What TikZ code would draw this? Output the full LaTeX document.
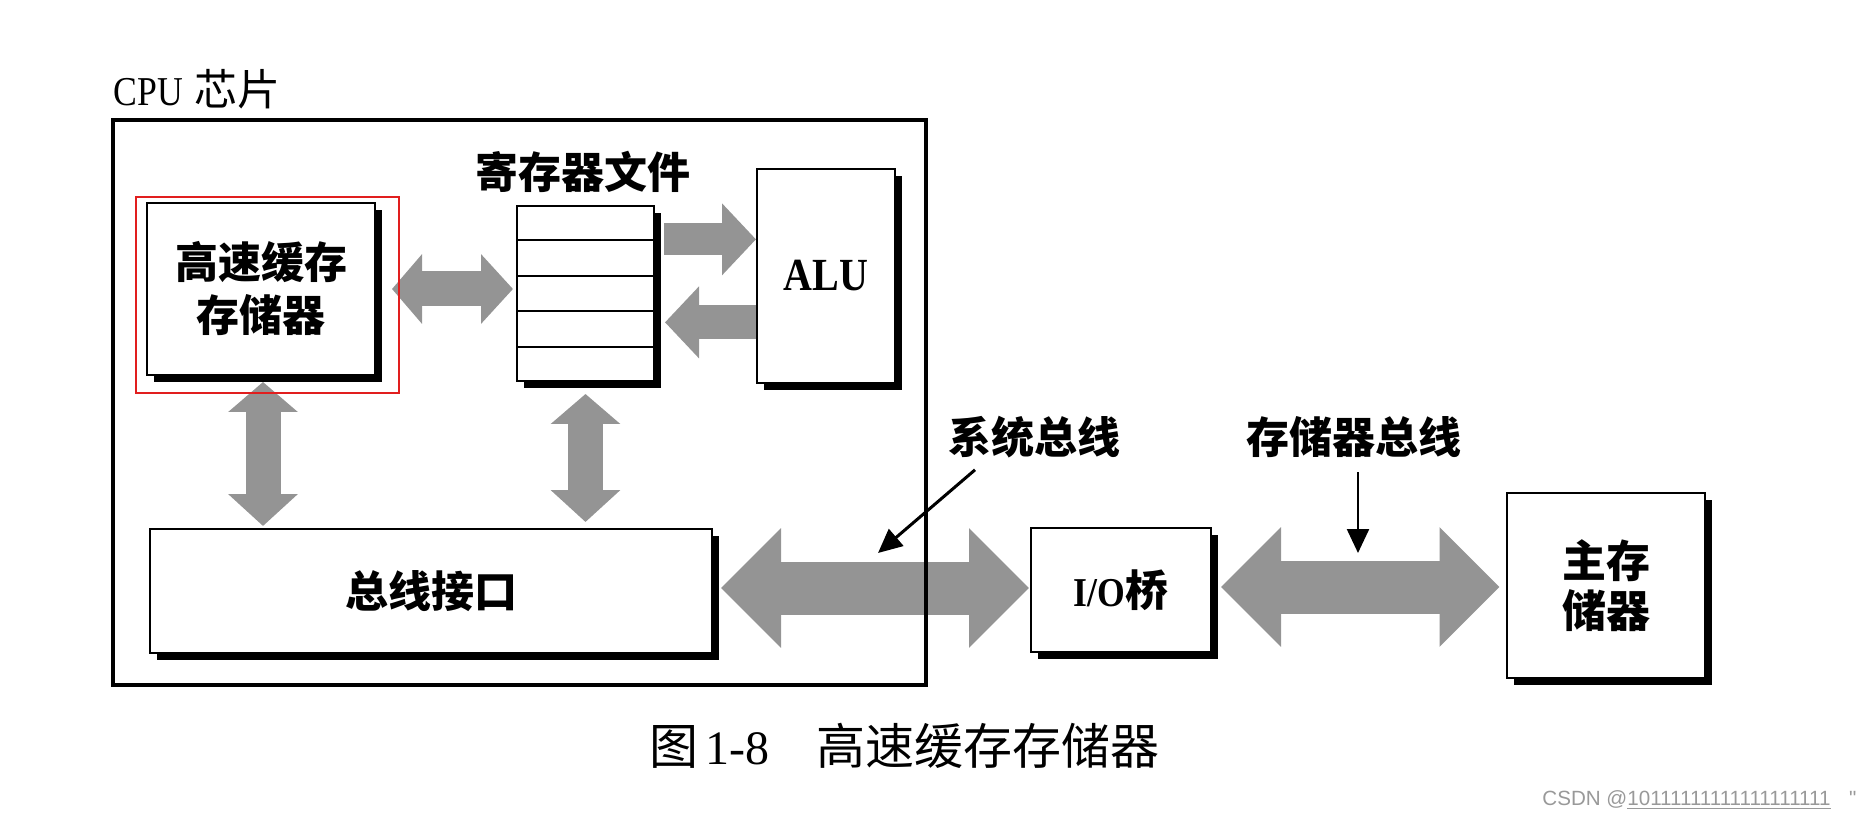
\documentclass[tikz,border=0pt]{standalone}
\usepackage{fontspec}
\setmainfont{Liberation Serif}
\newfontfamily\cjk{Noto Sans CJK SC}
\newfontfamily\narrow[FakeStretch=0.87]{Liberation Serif}
\newfontfamily\wmfont{Liberation Sans}
\usetikzlibrary{arrows.meta,shadows,calc}
\definecolor{busgray}{gray}{0.58}
\definecolor{hl}{RGB}{225,30,30}
\begin{document}
\begin{tikzpicture}[x=0.5pt,y=-0.5pt,
  box/.style={draw, line width=1pt, fill=white, inner sep=0pt,
    drop shadow={shadow xshift=3.5pt, shadow yshift=-3.5pt, fill=black, opacity=1}},
  cjklbl/.style={font=\cjk\bfseries\fontsize{21.5}{26.5}\selectfont, align=center, inner sep=0pt},
  bigbus/.style={draw=busgray, line width=26.5pt,
    {Triangle[length=30pt,width=58pt]}-{Triangle[length=30pt,width=58pt]}},
  smallbi/.style={draw=busgray, line width=17.5pt,
    {Triangle[length=15pt,width=34pt]}-{Triangle[length=16pt,width=34pt]}},
  smallone/.style={draw=busgray, line width=16pt, -{Triangle[length=17pt,width=35pt]}},
  pointer/.style={draw=black, line width=1.5pt, -{Triangle[length=12pt,width=11pt]}},
  rowline/.style={draw, line width=1pt},
  chip/.style={draw, line width=1.6pt, inner sep=0pt},
  redmark/.style={draw=hl, line width=1pt, inner sep=0pt}
]
\useasboundingbox (0,0) rectangle (1876,818);

% boxes
\node[box, cjklbl, minimum width=114pt, minimum height=86pt] (cache) at (261,289) {高速缓存\\存储器};
\node[box, minimum width=68.5pt, minimum height=87.5pt] (reg) at (585.5,293.5) {};
\foreach \f in {0.2,0.4,0.6,0.8}
  \draw[rowline] ($(reg.north west)!\f!(reg.south west)$) -- ($(reg.north east)!\f!(reg.south east)$);
\node[box, minimum width=69pt, minimum height=107pt,
  font=\narrow\bfseries\fontsize{23}{23}\selectfont] (alu) at (826,276) {ALU};
\node[box, cjklbl, minimum width=281pt, minimum height=62pt] (bus) at (431,591) {总线接口};
\node[box, minimum width=90pt, minimum height=62pt] (io) at (1121,590)
  {{\narrow\bfseries\fontsize{20.5}{20}\selectfont I/O}{\cjk\bfseries\fontsize{21.5}{26}\selectfont 桥}};
\node[box, cjklbl, font=\cjk\bfseries\fontsize{22}{25}\selectfont, minimum width=99pt, minimum height=92.5pt] (mem) at (1606,585.5) {主存\\储器};

% labels
\node[anchor=west, inner sep=0pt] (cpul) at (113,89)
  {{\narrow\fontsize{20.5}{20}\selectfont CPU}\hspace{6pt}{\cjk\fontsize{21.5}{20}\selectfont 芯片}};
\node[cjklbl] (regl) at (583,172) {寄存器文件};
\node[cjklbl] (sysl) at (1034,437) {系统总线};
\node[cjklbl] (meml) at (1354,437) {存储器总线};

% internal buses
\draw[smallbi] ([xshift=8pt]cache.east) -- ([xshift=-1.5pt]cache.east -| reg.west);
\coordinate (r1) at ($(reg.north east)!0.194!(reg.south east)$);
\coordinate (r2) at ($(reg.north east)!0.663!(reg.south east)$);
\draw[smallone] ([xshift=4.5pt]r1) -- (r1 -| alu.west);
\draw[smallone, line width=17pt] (r2 -| alu.west) -- ([xshift=5pt]r2);
\draw[smallbi] ([xshift=1pt,yshift=-3pt]cache.south) -- ([xshift=1pt,yshift=1pt]cache.south |- bus.north);
\draw[smallbi] ([yshift=-6pt]reg.south) -- ([yshift=3pt]reg.south |- bus.north);

% system bus and memory bus
\draw[bigbus] ([xshift=4pt,yshift=1.5pt]bus.east) -- ([xshift=-0.5pt,yshift=1.5pt]bus.east -| io.west);
\draw[bigbus] ([xshift=4.5pt,yshift=1.5pt]io.east) -- ([xshift=-3.25pt,yshift=1.5pt]io.east -| mem.west);

% chip outline and highlight
\node[chip, minimum width=406.5pt, minimum height=282.5pt] (cpu) at (519.5,402.5) {};
\node[redmark, minimum width=131.5pt, minimum height=98pt] (red) at (267.5,295) {};

% pointers
\coordinate (systip) at (878,553);
\coordinate (memtip) at (1358,553);
\draw[pointer] ([xshift=-29.5pt,yshift=-5.75pt]sysl.south) -- (systip);
\draw[pointer, line width=1.2pt] ([xshift=2pt,yshift=-7pt]meml.south) -- (memtip);

% caption
\node[anchor=west, inner sep=0pt] (cap) at (649,746)
  {{\cjk\fontsize{24.5}{24}\selectfont 图}\hspace{3.5pt}{\fontsize{24}{24}\selectfont 1-8}\hspace{23.5pt}{\cjk\fontsize{24.5}{24}\selectfont 高速缓存存储器}};

% watermark
\node[anchor=west, inner sep=0pt, text=black!40, font=\wmfont\fontsize{10.3}{11}\selectfont] (wm) at (1542,800)
  {CSDN @\underline{10111111111111111111}\hspace{0.9em}"};
\end{tikzpicture}
\end{document}
